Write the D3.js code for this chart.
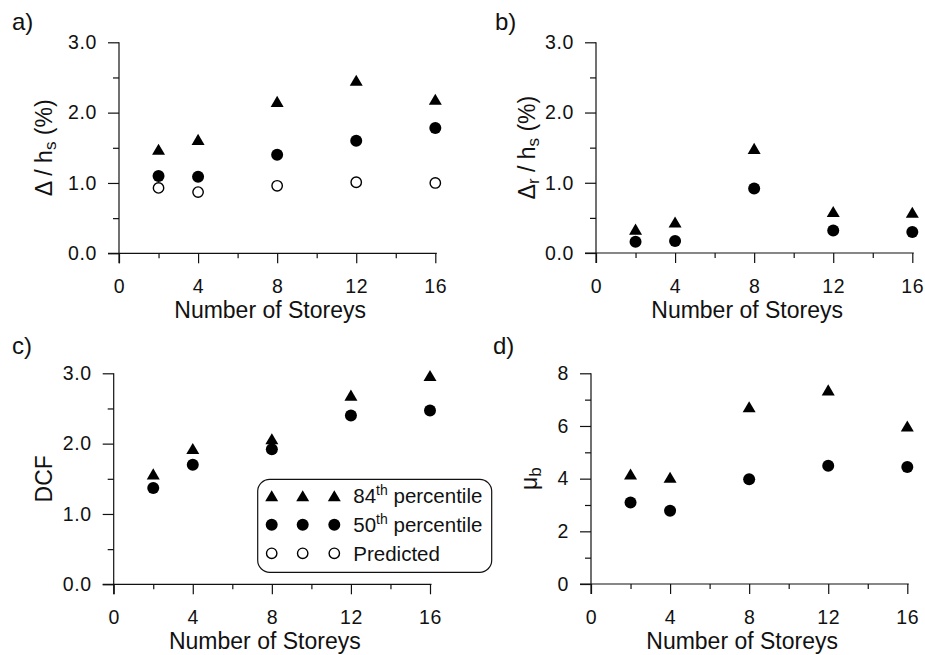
<!DOCTYPE html>
<html lang="en">
<head>
<meta charset="UTF-8">
<title>Response vs number of storeys</title>
<style>
  body { margin: 0; background: #fff; }
  svg text { font-family: "Liberation Sans", Arial, Helvetica, sans-serif; fill: #111; }
  .axis-line { stroke: #111; stroke-width: 1.2; }
</style>
</head>
<body>
<div id="chart"></div>
<script src="https://d3js.org/d3.v7.min.js"></script>
<script>
// x values shared by every panel
const storeys = [2, 4, 8, 12, 16];
const xMajor = [0, 4, 8, 12, 16];
const xMinor = [2, 6, 10, 14];

// a) peak drift
const driftP84 = [1.48, 1.62, 2.16, 2.46, 2.19];
const driftP50 = [1.10, 1.09, 1.40, 1.60, 1.78];
const driftPred = [0.93, 0.87, 0.96, 1.01, 1.00];
// b) residual drift
const resP84 = [0.34, 0.44, 1.49, 0.59, 0.58];
const resP50 = [0.16, 0.17, 0.92, 0.32, 0.30];
// c) DCF
const dcfP84 = [1.57, 1.93, 2.07, 2.69, 2.97];
const dcfP50 = [1.37, 1.70, 1.92, 2.40, 2.47];
// d) ductility
const muP84 = [4.18, 4.05, 6.73, 7.37, 6.00];
const muP50 = [3.09, 2.78, 3.98, 4.49, 4.44];

// y ticks
const yMajor3 = [0, 1, 2, 3];
const yMinor3 = [0.5, 1.5, 2.5];
const yMajor8 = [0, 2, 4, 6, 8];
const yMinor8 = [1, 3, 5, 7];

const legendNames = [["84", "th", " percentile"], ["50", "th", " percentile"], ["Predicted", "", ""]];
const legendKinds = ["p84", "p50", "pred"];

const W = 925, H = 655;
const svg = d3.select("#chart").append("svg")
    .attr("width", W).attr("height", H);

// triangle centred on its bounding box
const triangle = {
    draw(ctx, size) {
        const w = Math.sqrt(size), h = w * 0.85;
        ctx.moveTo(0, -h / 2);
        ctx.lineTo(w / 2, h / 2);
        ctx.lineTo(-w / 2, h / 2);
        ctx.closePath();
    }
};
const triPath = d3.symbol(triangle, 13 * 13)();
const dotPath = d3.symbol(d3.symbolCircle, Math.PI * 6 * 6)();
const ringPath = d3.symbol(d3.symbolCircle, Math.PI * 5.2 * 5.2)();

function drawMark(g, kind, x, y) {
    if (kind === "p84") {
        g.append("path").attr("d", triPath).attr("transform", `translate(${x},${y})`).attr("fill", "#000");
    } else if (kind === "p50") {
        g.append("path").attr("d", dotPath).attr("transform", `translate(${x},${y})`).attr("fill", "#000");
    } else {
        g.append("path").attr("d", ringPath).attr("transform", `translate(${x},${y})`)
            .attr("fill", "#fff").attr("stroke", "#000").attr("stroke-width", 1.4);
    }
}

const panels = [
    { tag: "a)", tagX: 12, tagY: 30, left: 119, top: 42.3, bottom: 253.3, ymax: 3,
      yMajor: yMajor3, yMinor: yMinor3, fmt: d3.format(".1f"), titleX: 44,
      title: [["Δ / h", ""], ["s", "sub"], [" (%)", ""]],
      series: [["p84", driftP84], ["p50", driftP50], ["pred", driftPred]] },
    { tag: "b)", tagX: 495, tagY: 30, left: 596, top: 42.3, bottom: 253, ymax: 3,
      yMajor: yMajor3, yMinor: yMinor3, fmt: d3.format(".1f"), titleX: 527,
      title: [["Δ", ""], ["r", "sub"], [" / h", ""], ["s", "sub"], [" (%)", ""]],
      series: [["p84", resP84], ["p50", resP50]] },
    { tag: "c)", tagX: 12, tagY: 354, left: 113.7, top: 373.3, bottom: 584.3, ymax: 3,
      yMajor: yMajor3, yMinor: yMinor3, fmt: d3.format(".1f"), titleX: 44,
      title: [["DCF", ""]],
      series: [["p84", dcfP84], ["p50", dcfP50]] },
    { tag: "d)", tagX: 493, tagY: 354, left: 591, top: 373.3, bottom: 584, ymax: 8,
      yMajor: yMajor8, yMinor: yMinor8, fmt: d3.format("d"), titleX: 529,
      title: [["μ", ""], ["b", "sub"]],
      series: [["p84", muP84], ["p50", muP50]] }
];

const plotW = 316.3;

panels.forEach(p => {
    const g = svg.append("g");
    const x = d3.scaleLinear().domain([0, 16]).range([p.left, p.left + plotW]);
    const y = d3.scaleLinear().domain([0, p.ymax]).range([p.bottom, p.top]);

    // panel tag
    g.append("text").attr("x", p.tagX).attr("y", p.tagY)
        .attr("font-size", 24).text(p.tag);

    // axis lines
    g.append("line").attr("class", "axis-line")
        .attr("x1", p.left - 11).attr("x2", x(16) + 1.5)
        .attr("y1", p.bottom).attr("y2", p.bottom);
    g.append("line").attr("class", "axis-line")
        .attr("x1", p.left).attr("x2", p.left)
        .attr("y1", p.top).attr("y2", p.bottom + 10);

    // x axis: major + minor ticks
    const xAx = g.append("g").attr("transform", `translate(0,${p.bottom})`)
        .call(d3.axisBottom(x).tickValues(xMajor).tickSize(10).tickPadding(16).tickFormat(d3.format("d")));
    xAx.append("g").call(d3.axisBottom(x).tickValues(xMinor).tickSize(5).tickFormat(""));
    // y axis
    const yAx = g.append("g").attr("transform", `translate(${p.left},0)`)
        .call(d3.axisLeft(y).tickValues(p.yMajor).tickSize(11).tickPadding(11).tickFormat(p.fmt));
    yAx.append("g").call(d3.axisLeft(y).tickValues(p.yMinor).tickSize(6).tickFormat(""));

    [xAx, yAx].forEach(a => {
        a.selectAll(".domain").remove();
        a.selectAll("line").attr("stroke", "#111").attr("stroke-width", 1.2);
        a.selectAll("text").attr("font-size", 19.5).attr("font-family", null)
            .attr("letter-spacing", 0.6).attr("fill", "#111");
    });

    // x title
    g.append("text").attr("x", (p.left + x(16)) / 2 - 7).attr("y", p.bottom + 65)
        .attr("text-anchor", "middle").attr("font-size", 23).text("Number of Storeys");

    // y title (rotated)
    const yt = g.append("text")
        .attr("transform", `translate(${p.titleX + 8},${(p.top + p.bottom) / 2}) rotate(-90)`)
        .attr("text-anchor", "middle").attr("font-size", 23);
    p.title.forEach(([t, kind]) => {
        const s = yt.append("tspan").text(t);
        if (kind === "sub") s.attr("font-size", 17).attr("baseline-shift", "-22%");
        else s.attr("baseline-shift", "0%");
    });

    // marks
    p.series.forEach(([kind, vals]) => {
        vals.forEach((v, i) => drawMark(g, kind, x(storeys[i]), y(v)));
    });
});

// legend (sits in panel c, runs over toward panel d)
const lg = svg.append("g").attr("transform", "translate(257.7,479.3)");
lg.append("rect").attr("width", 234).attr("height", 93).attr("rx", 12)
    .attr("fill", "#fff").attr("stroke", "#111").attr("stroke-width", 1.2);
const rowY = [16.4, 45.4, 74];
const colX = [14, 45, 76.6];
legendKinds.forEach((kind, r) => {
    colX.forEach(cx => drawMark(lg, kind, cx, rowY[r]));
    const [a, sup, b] = legendNames[r];
    const t = lg.append("text").attr("x", 95.6).attr("y", rowY[r] + 7.5).attr("font-size", 20.5);
    t.append("tspan").text(a);
    if (sup) {
        t.append("tspan").text(sup).attr("font-size", 14).attr("dy", -8);
        t.append("tspan").text(b).attr("dy", 8);
    }
});
</script>
</body>
</html>
